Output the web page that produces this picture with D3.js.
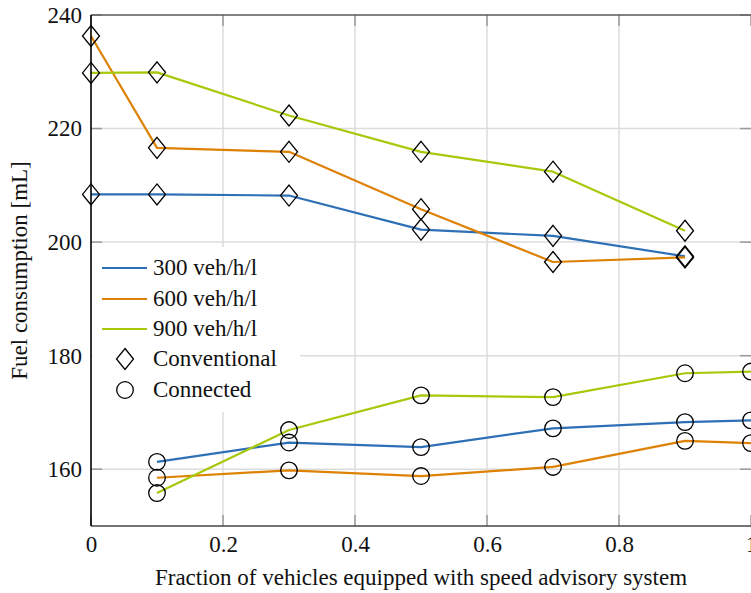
<!DOCTYPE html>
<html><head><meta charset="utf-8">
<script src="https://cdn.jsdelivr.net/npm/d3@7"></script>
<style>
body{margin:0;background:#fff;}
svg{display:block;}
text{font-family:"Liberation Serif","Times New Roman",serif !important;fill:#111;}
</style></head>
<body>
<svg id="chart" width="751" height="593"></svg>
<script>
const seriesNames = ["300 veh/h/l","600 veh/h/l","900 veh/h/l"];
const seriesColors = ["#2e70b6","#dd8204","#a7c80b"];
const convX = [0, 0.1, 0.3, 0.5, 0.7, 0.9];
const conv300 = [208.4, 208.4, 208.2, 202.2, 201.1, 197.5];
const conv600 = [236.3, 216.6, 215.9, 205.8, 196.5, 197.3];
const conv900 = [229.8, 229.9, 222.3, 215.9, 212.4, 202.0];
const connX = [0.1, 0.3, 0.5, 0.7, 0.9, 1.0];
const conn300 = [161.3, 164.7, 163.9, 167.2, 168.3, 168.6];
const conn600 = [158.5, 159.8, 158.8, 160.4, 165.0, 164.6];
const conn900 = [155.8, 166.9, 173.0, 172.7, 176.9, 177.2];
const xTicks = [0, 0.2, 0.4, 0.6, 0.8, 1];
const yTicks = [160, 180, 200, 220, 240];
const legendMarkers = ["Conventional","Connected"];

(function(){
const FS = 23;
const svg = d3.select("#chart");
const pL = 91, pR = 751, pT = 15, pB = 526;
const x = d3.scaleLinear().domain([0,1]).range([pL,pR]);
const y = d3.scaleLinear().domain([150,240]).range([pB,pT]);

// grid
const grid = svg.append("g");
grid.selectAll("line.gx").data(xTicks.filter(d=>d>0&&d<1)).enter().append("line")
  .attr("x1",d=>x(d)).attr("x2",d=>x(d)).attr("y1",pT).attr("y2",pB)
  .attr("stroke","#dcdcdc").attr("stroke-width",1.5);
grid.selectAll("line.gy").data(yTicks.filter(d=>d<240)).enter().append("line")
  .attr("x1",pL).attr("x2",pR).attr("y1",d=>y(d)).attr("y2",d=>y(d))
  .attr("stroke","#dcdcdc").attr("stroke-width",1.5);

// ticks (inside, both sides)
const tk = svg.append("g").attr("stroke","#9a9a9a").attr("stroke-width",1.5);
xTicks.forEach(d=>{
  tk.append("line").attr("x1",x(d)).attr("x2",x(d)).attr("y1",pB).attr("y2",pB-11);
  tk.append("line").attr("x1",x(d)).attr("x2",x(d)).attr("y1",pT).attr("y2",pT+11);
});
yTicks.forEach(d=>{
  tk.append("line").attr("x1",pL).attr("x2",pL+11).attr("y1",y(d)).attr("y2",y(d));
  tk.append("line").attr("x1",pR).attr("x2",pR-11).attr("y1",y(d)).attr("y2",y(d));
});

// axes labels via d3 axes
const xAxis = d3.axisBottom(x).tickValues(xTicks).tickSize(0).tickPadding(10)
  .tickFormat(d=>d===0?"0":(d===1?"1":d3.format(".1f")(d)));
const gx = svg.append("g").attr("transform",`translate(0,${pB})`).call(xAxis);
gx.select(".domain").remove();
gx.selectAll("text").attr("font-size",FS).attr("fill","#111");

const yAxis = d3.axisLeft(y).tickValues(yTicks).tickSize(0).tickPadding(9);
const gy = svg.append("g").attr("transform",`translate(${pL},0)`).call(yAxis);
gy.select(".domain").remove();
gy.selectAll("text").attr("font-size",FS).attr("fill","#111");

// lines
const line = d3.line().x(d=>x(d[0])).y(d=>y(d[1]));
const convSets = [conv300, conv600, conv900];
const connSets = [conn300, conn600, conn900];
const plot = svg.append("g");
convSets.forEach((vals,i)=>{
  plot.append("path").datum(convX.map((xv,j)=>[xv,vals[j]]))
    .attr("d",line).attr("fill","none").attr("stroke",seriesColors[i]).attr("stroke-width",2.2)
    .attr("stroke-linejoin","round");
});
connSets.forEach((vals,i)=>{
  plot.append("path").datum(connX.map((xv,j)=>[xv,vals[j]]))
    .attr("d",line).attr("fill","none").attr("stroke",seriesColors[i]).attr("stroke-width",2.2)
    .attr("stroke-linejoin","round");
});
const dw = 8.5, dh = 10.5, cr = 8.3;
function diamond(cx,cy){return `M${cx},${cy-dh}L${cx+dw},${cy}L${cx},${cy+dh}L${cx-dw},${cy}Z`;}
convSets.forEach(vals=>{
  plot.selectAll(null).data(convX.map((xv,j)=>[xv,vals[j]])).enter().append("path")
    .attr("d",d=>diamond(x(d[0]),y(d[1]))).attr("fill","none").attr("stroke","#000").attr("stroke-width",1.3);
});
connSets.forEach(vals=>{
  plot.selectAll(null).data(connX.map((xv,j)=>[xv,vals[j]])).enter().append("circle")
    .attr("cx",d=>x(d[0])).attr("cy",d=>y(d[1])).attr("r",cr)
    .attr("fill","none").attr("stroke","#000").attr("stroke-width",1.3);
});

// frame
svg.append("line").attr("x1",pL).attr("x2",pR).attr("y1",pT).attr("y2",pT).attr("stroke","#5a5a5a").attr("stroke-width",1.6);
svg.append("line").attr("x1",pL).attr("x2",pR).attr("y1",pB).attr("y2",pB).attr("stroke","#444").attr("stroke-width",1.6);
svg.append("line").attr("x1",pL).attr("x2",pL).attr("y1",pT).attr("y2",pB).attr("stroke","#000").attr("stroke-width",1.6);

// legend
const lg = svg.append("g");
lg.append("rect").attr("x",92).attr("y",247).attr("width",208).attr("height",165).attr("fill","#fff");
const rowY = [268, 299, 329, 359, 390];
seriesNames.forEach((n,i)=>{
  lg.append("line").attr("x1",102).attr("x2",147).attr("y1",rowY[i]).attr("y2",rowY[i])
    .attr("stroke",seriesColors[i]).attr("stroke-width",2.2);
  lg.append("text").attr("x",153).attr("y",rowY[i]+7).attr("font-size",FS).text(n);
});
lg.append("path").attr("d",diamond(125,rowY[3])).attr("fill","none").attr("stroke","#000").attr("stroke-width",1.3);
lg.append("text").attr("x",153).attr("y",rowY[3]+7).attr("font-size",FS).text(legendMarkers[0]);
lg.append("circle").attr("cx",125).attr("cy",rowY[4]).attr("r",cr).attr("fill","none").attr("stroke","#000").attr("stroke-width",1.3);
lg.append("text").attr("x",153).attr("y",rowY[4]+7).attr("font-size",FS).text(legendMarkers[1]);

// axis titles
svg.append("text").attr("x",(pL+pR)/2).attr("y",585).attr("text-anchor","middle")
  .attr("font-size",FS).text("Fraction of vehicles equipped with speed advisory system");
svg.append("text").attr("transform",`translate(27,${(pT+pB)/2}) rotate(-90)`).attr("text-anchor","middle")
  .attr("font-size",FS).text("Fuel consumption [mL]");
})();
</script>
</body></html>
